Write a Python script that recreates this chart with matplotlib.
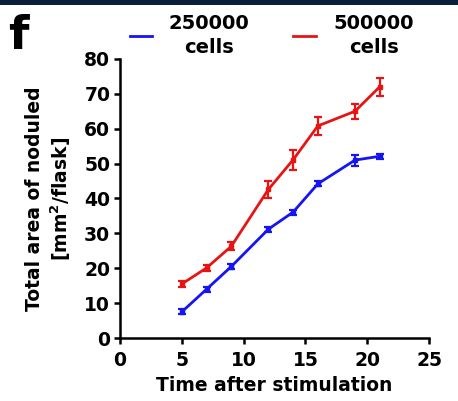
import matplotlib
matplotlib.use("Agg")
import matplotlib.pyplot as plt
from matplotlib.patches import Rectangle
from matplotlib.lines import Line2D

days = [5, 7, 9, 12, 14, 16, 19, 21]
cells_250k = [7.5, 14.0, 20.5, 31.2, 36.1, 44.2, 51.0, 52.1]
err_250k = [0.7, 0.7, 0.7, 0.7, 0.7, 0.7, 1.6, 0.7]
cells_500k = [15.5, 20.1, 26.3, 42.6, 51.1, 60.8, 65.0, 72.0]
err_500k = [0.8, 0.8, 1.2, 2.4, 2.8, 2.6, 2.2, 2.6]
labels = ["250000\ncells", "500000\ncells"]
xticks = [0, 5, 10, 15, 20, 25]
yticks = [0, 10, 20, 30, 40, 50, 60, 70, 80]

plt.rcParams['font.family'] = ['DejaVu Sans']
plt.rcParams['font.weight'] = 'bold'

fig = plt.figure(figsize=(4.58, 4.01), dpi=100)
ax = fig.add_axes([0.262, 0.157, 0.675, 0.696])

# dark band at top
fig.patches.append(Rectangle((0, 0.988), 1, 0.012, transform=fig.transFigure,
                             facecolor='#0a1f3a', edgecolor='none'))

blue = '#1414f5'
red = '#e81414'
ax.errorbar(days, cells_250k, yerr=err_250k, color=blue, lw=2, marker='s',
            ms=3.5, capsize=3, elinewidth=1.6, capthick=1.6)
ax.errorbar(days, cells_500k, yerr=err_500k, color=red, lw=2, marker='s',
            ms=3.5, capsize=3, elinewidth=1.6, capthick=1.6)

ax.set_xlim(0, 25)
ax.set_ylim(0, 80)
ax.set_xticks(xticks)
ax.set_yticks(yticks)
ax.tick_params(axis='both', labelsize=13.5, width=1.8, length=4, direction='out', pad=3)
ax.tick_params(axis='x', pad=5)
for lab in ax.get_xticklabels() + ax.get_yticklabels():
    lab.set_fontweight('bold')
for s in ['top', 'right']:
    ax.spines[s].set_visible(False)
for s in ['left', 'bottom']:
    ax.spines[s].set_linewidth(1.8)

ax.set_xlabel('Time after stimulation', fontsize=13.5, fontweight='bold', labelpad=5)
ax.set_ylabel('Total area of noduled\n[mm$^\\mathbf{2}$/flask]', fontsize=13.5,
              fontweight='bold', labelpad=8, linespacing=1.22)

# manual legend
for (x0, x1, tx, col, lab) in [(130, 152, 209, blue, labels[0]),
                                (293, 316, 374, red, labels[1])]:
    fig.add_artist(Line2D([x0 / 458, x1 / 458], [1 - 36 / 401] * 2, color=col, lw=2,
                          transform=fig.transFigure))
    fig.text(tx / 458, 1 - 35.5 / 401, lab, fontsize=14, fontweight='bold',
             ha='center', va='center', multialignment='center', linespacing=1.3)

fig.text(0.018, 0.964, 'f', fontsize=34, fontweight='bold', va='top', ha='left')

fig.savefig('out.png', dpi=100)
